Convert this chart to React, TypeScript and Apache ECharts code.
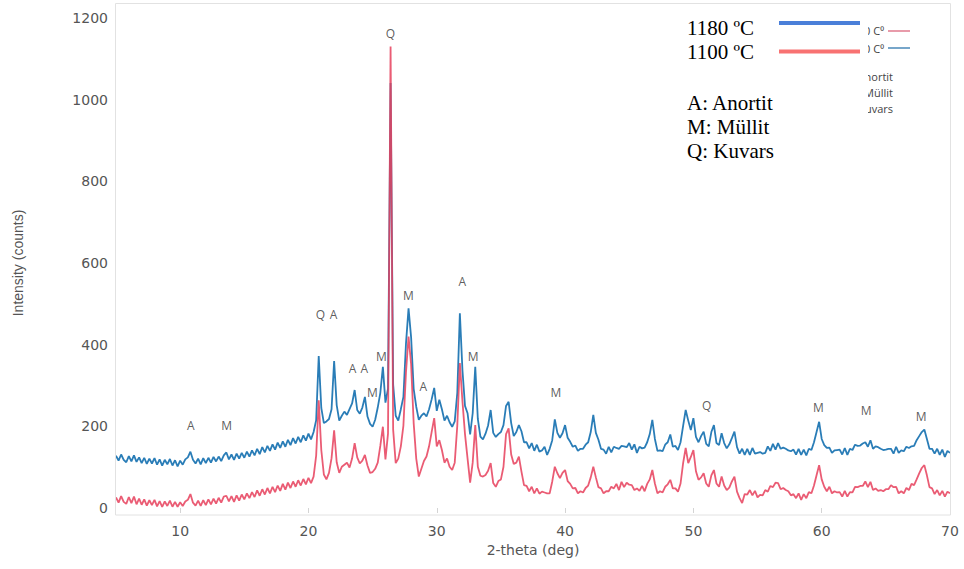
import React, { useEffect, useRef } from "react";
import * as echarts from "echarts";

// Diffractometer scan: 2-theta from 5° to 70° in 0.2° steps
const scanStart = 5;
const scanStep = 0.2;

// Intensity (counts) of the sample fired at 1180 °C
const intensity1180 = [
  128, 116, 131, 118, 112, 127, 114, 129, 113, 124,
  110, 123, 108, 121, 109, 122, 106, 119, 104, 118,
  107, 120, 104, 117, 102, 116, 106, 119, 124, 138,
  118, 109, 121, 107, 122, 110, 123, 111, 125, 114,
  126, 115, 129, 136, 119, 131, 118, 133, 121, 135,
  123, 138, 126, 141, 129, 145, 132, 149, 136, 152,
  140, 156, 143, 160, 147, 163, 150, 167, 154, 171,
  158, 174, 161, 178, 165, 182, 168, 186, 215, 372,
  245, 208, 212, 218, 242, 360, 252, 214, 226, 236,
  228, 242, 256, 289, 240, 231, 246, 272, 224, 206,
  199, 216, 246, 282, 346, 258, 292, 1041, 302, 226,
  214, 242, 272, 402, 489, 418, 292, 248, 216, 226,
  232, 224, 242, 266, 294, 238, 265, 242, 214, 226,
  210, 199, 212, 282, 477, 338, 250, 232, 180, 232,
  346, 218, 175, 168, 182, 202, 240, 184, 174, 181,
  186, 203, 250, 260, 208, 176, 186, 203, 188, 161,
  161, 146, 159, 140, 155, 138, 141, 150, 130, 145,
  166, 217, 184, 172, 183, 203, 172, 162, 150, 153,
  140, 145, 145, 155, 161, 186, 228, 184, 167, 145,
  143, 133, 150, 136, 150, 147, 145, 152, 151, 149,
  159, 143, 156, 135, 150, 146, 148, 161, 181, 216,
  169, 140, 141, 139, 155, 161, 180, 150, 152, 142,
  161, 201, 240, 214, 191, 220, 174, 161, 176, 187,
  157, 151, 186, 203, 159, 154, 183, 159, 146, 156,
  171, 187, 149, 133, 145, 130, 145, 130, 147, 133,
  135, 137, 133, 135, 151, 140, 157, 143, 159, 145,
  148, 145, 141, 139, 143, 131, 145, 130, 143, 129,
  145, 142, 161, 186, 211, 169, 154, 147, 148, 135,
  141, 142, 143, 131, 147, 130, 145, 142, 155, 152,
  153, 158, 161, 150, 166, 145, 151, 149, 145, 142,
  143, 145, 145, 133, 150, 135, 141, 139, 150, 147,
  151, 152, 166, 176, 186, 192, 169, 145, 145, 133,
  145, 130, 143, 125, 140, 135,
];

// Intensity (counts) of the sample fired at 1100 °C
const intensity1100 = [
  26, 13, 29, 15, 10, 27, 12, 28, 9, 23,
  8, 21, 6, 19, 7, 20, 4, 17, 3, 16,
  5, 18, 3, 15, 3, 14, 5, 16, 20, 34,
  13, 6, 18, 5, 19, 7, 21, 9, 23, 11,
  25, 13, 28, 30, 16, 29, 15, 31, 18, 33,
  21, 36, 24, 39, 27, 43, 30, 46, 33, 49,
  36, 52, 39, 55, 42, 59, 45, 62, 49, 65,
  52, 68, 55, 71, 58, 74, 61, 77, 128, 264,
  142, 82, 70, 86, 122, 190, 112, 86, 101, 106,
  111, 99, 121, 159, 124, 109, 116, 130, 104, 86,
  88, 96, 111, 152, 199, 119, 182, 1130, 192, 110,
  121, 151, 202, 332, 420, 352, 208, 121, 77, 96,
  115, 126, 151, 186, 220, 151, 166, 142, 111, 121,
  101, 93, 111, 202, 355, 262, 181, 121, 62, 111,
  203, 101, 79, 77, 81, 91, 110, 61, 52, 66,
  70, 101, 181, 195, 131, 108, 111, 126, 89, 56,
  54, 41, 52, 36, 48, 35, 40, 38, 36, 36,
  65, 101, 85, 73, 86, 93, 66, 59, 48, 49,
  36, 41, 38, 49, 55, 75, 101, 75, 51, 48,
  36, 41, 41, 52, 48, 59, 44, 64, 51, 62,
  57, 56, 44, 48, 42, 54, 41, 59, 70, 93,
  60, 36, 41, 38, 52, 58, 69, 48, 48, 40,
  60, 110, 147, 110, 125, 142, 90, 69, 75, 85,
  60, 52, 80, 93, 60, 52, 77, 55, 44, 50,
  65, 77, 40, 24, 12, 34, 33, 44, 31, 42,
  26, 32, 31, 44, 40, 54, 51, 62, 61, 46,
  49, 44, 41, 31, 34, 24, 36, 20, 34, 24,
  39, 36, 55, 80, 105, 70, 52, 41, 52, 36,
  41, 38, 39, 28, 42, 28, 39, 38, 52, 51,
  54, 54, 65, 51, 64, 44, 48, 42, 44, 41,
  46, 46, 56, 51, 52, 36, 41, 36, 49, 44,
  59, 56, 70, 85, 98, 105, 80, 51, 48, 34,
  44, 31, 42, 28, 40, 36,
];

// Phase identification of the reflections: A = anorthite, M = mullite, Q = quartz
const peakPhase = ["A", "M", "Q", "A", "A", "A", "M", "M", "Q", "M", "A", "A", "M", "M", "Q", "M", "M", "M"];
const peakTheta = [10.83, 13.63, 20.94, 21.95, 23.43, 24.36, 24.98, 25.68, 26.38, 27.78, 28.95, 31.98, 32.84, 39.29, 51.03, 59.74, 63.47, 67.75];
const peakIntensity = [203, 203, 473, 473, 341, 341, 282, 370, 1162, 520, 297, 554, 370, 282, 250, 245, 238, 223];

const thetaTicks = [10, 20, 30, 40, 50, 60, 70];

const seriesNames = ["1180 ºC", "1100 ºC"];
const phaseNames = ["A: Anortit", "M: Müllit", "Q: Kuvars"];
const originalKeyNames = ["1100 C⁰", "1180 C⁰"];

const toPoints = (values: number[]) =>
  values.map((v, i) => [Number((scanStart + i * scanStep).toFixed(1)), v]);

export default function App() {
  const ref = useRef<HTMLDivElement>(null);

  useEffect(() => {
    document.body.style.margin = "0";
    if (!ref.current) return;
    const chart = echarts.init(ref.current, undefined, { renderer: "svg" });

    const tickFont = "DejaVu Sans";
    const serif = "Liberation Serif";
    const keyFont = { fontSize: 11, fontFamily: "Open Sans", fill: "#444" };

    chart.setOption({
      animation: false,
      backgroundColor: "#ffffff",
      grid: { left: 116, right: 14, top: 18, bottom: 61, containLabel: false },
      tooltip: { show: false },
      xAxis: {
        type: "value",
        min: 5,
        max: 70,
        offset: 7,
        axisLine: { show: false },
        axisTick: {
          show: true,
          customValues: thetaTicks,
          length: 5,
          lineStyle: { color: "#d4d4d4" },
        },
        axisLabel: {
          customValues: thetaTicks,
          color: "#555555",
          fontSize: 14,
          fontFamily: tickFont,
          margin: 9,
          formatter: (v: number) => String(v),
        },
        splitLine: { show: false },
        name: "2-theta (deg)",
        nameLocation: "middle",
        nameGap: 27,
        nameTextStyle: { color: "#555555", fontSize: 14, fontFamily: tickFont },
      },
      yAxis: {
        type: "value",
        min: 0,
        max: 1200,
        interval: 200,
        axisLine: { show: false },
        axisTick: { show: false },
        splitLine: { show: false },
        axisLabel: {
          color: "#555555",
          fontSize: 14,
          fontFamily: tickFont,
          margin: 8,
          formatter: (v: number) => String(v),
        },
        name: "Intensity (counts)",
        nameLocation: "middle",
        nameGap: 91,
        nameTextStyle: { color: "#555555", fontSize: 14, fontFamily: "Liberation Sans" },
      },
      series: [
        {
          name: seriesNames[0],
          type: "line",
          data: toPoints(intensity1180),
          showSymbol: false,
          symbol: "none",
          silent: true,
          lineStyle: { color: "#1f76b3", width: 1.8, opacity: 0.95 },
          z: 2,
        },
        {
          name: seriesNames[1],
          type: "line",
          data: toPoints(intensity1100),
          showSymbol: false,
          symbol: "none",
          silent: true,
          lineStyle: { color: "#e6405c", width: 1.8, opacity: 0.85 },
          z: 3,
        },
        {
          name: "phases",
          type: "scatter",
          silent: true,
          symbolSize: 1,
          itemStyle: { color: "rgba(0,0,0,0)" },
          data: peakPhase.map((p, i) => ({ name: p, value: [peakTheta[i], peakIntensity[i]] })),
          label: {
            show: true,
            position: "inside",
            formatter: "{b}",
            color: "#333333",
            fontSize: 12,
            fontFamily: "Open Sans",
          },
          z: 4,
        },
      ],
      graphic: [
        // plot frame
        {
          type: "rect",
          z: 50,
          silent: true,
          shape: { x: 115.5, y: 3.5, width: 835, height: 511.5 },
          style: { fill: "none", stroke: "#e2e2e2", lineWidth: 1 },
        },
        // earlier key, partly covered by the new one
        {
          type: "text",
          z: 60,
          x: 884,
          y: 30,
          style: { text: originalKeyNames[0], align: "right", verticalAlign: "middle", ...keyFont },
        },
        {
          type: "line",
          z: 60,
          shape: { x1: 888, y1: 31, x2: 910, y2: 31 },
          style: { stroke: "#e07a8e", lineWidth: 1.5 },
        },
        {
          type: "text",
          z: 60,
          x: 884,
          y: 48,
          style: { text: originalKeyNames[1], align: "right", verticalAlign: "middle", ...keyFont },
        },
        {
          type: "line",
          z: 60,
          shape: { x1: 888, y1: 48, x2: 910, y2: 48 },
          style: { stroke: "#4a88b8", lineWidth: 1.5 },
        },
        ...phaseNames.map((t, i) => ({
          type: "text",
          z: 60,
          x: 893,
          y: 76 + i * 16,
          style: { text: t, align: "right", verticalAlign: "middle", ...keyFont },
        })),
        // new key
        {
          type: "rect",
          z: 70,
          shape: { x: 670, y: 6, width: 198, height: 162 },
          style: { fill: "#ffffff" },
        },
        {
          type: "text",
          z: 80,
          x: 687,
          y: 28,
          style: { text: seriesNames[0], align: "left", verticalAlign: "middle", fontSize: 21, fontFamily: serif, fill: "#000" },
        },
        {
          type: "line",
          z: 80,
          shape: { x1: 779, y1: 23, x2: 860, y2: 23 },
          style: { stroke: "#4a7fd9", lineWidth: 4 },
        },
        {
          type: "text",
          z: 80,
          x: 687,
          y: 52,
          style: { text: seriesNames[1], align: "left", verticalAlign: "middle", fontSize: 21, fontFamily: serif, fill: "#000" },
        },
        {
          type: "line",
          z: 80,
          shape: { x1: 779, y1: 51.5, x2: 860, y2: 51.5 },
          style: { stroke: "#f87272", lineWidth: 4 },
        },
        ...phaseNames.map((t, i) => ({
          type: "text",
          z: 80,
          x: 687,
          y: 103 + i * 24,
          style: { text: t, align: "left", verticalAlign: "middle", fontSize: 21, fontFamily: serif, fill: "#000" },
        })),
      ],
    });

    return () => chart.dispose();
  }, []);

  return <div ref={ref} style={{ width: 964, height: 569, background: "#fff" }} />;
}
